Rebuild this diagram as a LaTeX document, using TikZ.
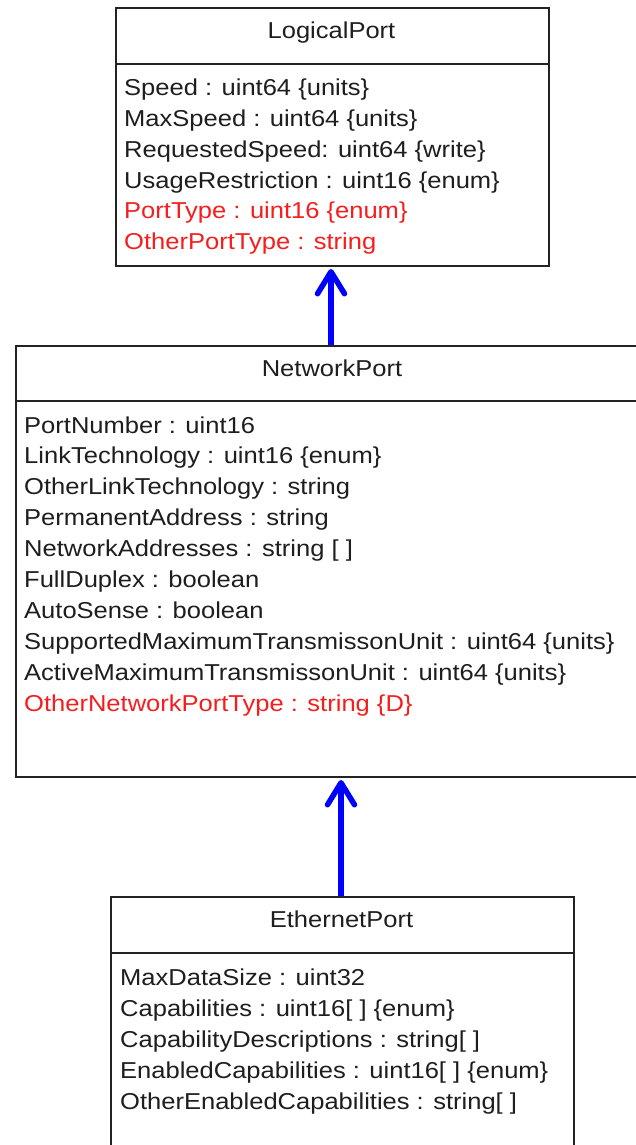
\documentclass[tikz,border=0pt]{standalone}
\usepackage{fontspec}
\newfontfamily\umlfont{Liberation Sans}[FakeStretch=1.11]
\usetikzlibrary{arrows.meta}
\definecolor{umlred}{RGB}{245,30,30}
\definecolor{umltext}{RGB}{30,30,30}
\definecolor{umledge}{RGB}{35,35,35}
\definecolor{inherit}{RGB}{0,0,255}

\begin{document}
\begin{tikzpicture}[x=1pt,y=-1pt,
  classbox/.style={draw=umledge, line width=2pt, fill=white, anchor=north west, inner sep=0pt},
  divider/.style={draw=umledge, line width=2pt},
  attr/.style={anchor=base west, inner sep=0pt, text=umltext, font={\umlfont\fontsize{23}{28}\selectfont}},
  derived/.style={attr, text=umlred},
  classname/.style={anchor=base, inner sep=0pt, text=umltext, font={\umlfont\fontsize{23}{28}\selectfont}},
  gen/.style={draw=inherit, line width=5.5pt, -{Straight Barb[length=22pt,width=27pt,round]}}]

\useasboundingbox (0,0) rectangle (636,1145);
\clip (0,0) rectangle (636,1145);

% ---- LogicalPort ----
\node[classbox, minimum width=433pt, minimum height=258pt] (lp) at (115,7) {};
\draw[divider] ([yshift=-57pt]lp.north west) -- ([yshift=-57pt]lp.north east);
\node[classname] (lpname) at (331.5,38.5) {LogicalPort};
\node[attr]    (lp1) at (124,96)    {Speed : uint64 \{units\}};
\node[attr]    (lp2) at (124,126.7) {MaxSpeed : uint64 \{units\}};
\node[attr]    (lp3) at (124,157.4) {RequestedSpeed: uint64 \{write\}};
\node[attr]    (lp4) at (124,188.1) {UsageRestriction : uint16 \{enum\}};
\node[derived] (lp5) at (124,218.8) {PortType : uint16 \{enum\}};
\node[derived] (lp6) at (124,249.5) {OtherPortType : string};

% ---- NetworkPort ----
\node[classbox, minimum width=634pt, minimum height=431pt] (np) at (15,345) {};
\draw[divider] ([yshift=-56pt]np.north west) -- ([yshift=-56pt]np.north east);
\node[classname] (npname) at (332,376.5) {NetworkPort};
\node[attr]    (np1)  at (24,433)   {PortNumber : uint16};
\node[attr]    (np2)  at (24,463.9) {LinkTechnology : uint16 \{enum\}};
\node[attr]    (np3)  at (24,494.8) {OtherLinkTechnology : string};
\node[attr]    (np4)  at (24,525.7) {PermanentAddress : string};
\node[attr]    (np5)  at (24,556.6) {NetworkAddresses : string [ ]};
\node[attr]    (np6)  at (24,587.5) {FullDuplex : boolean};
\node[attr]    (np7)  at (24,618.4) {AutoSense : boolean};
\node[attr]    (np8)  at (24,649.3) {SupportedMaximumTransmissonUnit : uint64 \{units\}};
\node[attr]    (np9)  at (24,680.2) {ActiveMaximumTransmissonUnit : uint64 \{units\}};
\node[derived] (np10) at (24,711.1) {OtherNetworkPortType : string \{D\}};

% ---- EthernetPort ----
\node[classbox, minimum width=463pt, minimum height=300pt] (ep) at (110,896) {};
\draw[divider] ([yshift=-57pt]ep.north west) -- ([yshift=-57pt]ep.north east);
\node[classname] (epname) at (341.5,927.5) {EthernetPort};
\node[attr] (ep1) at (120,985)  {MaxDataSize : uint32};
\node[attr] (ep2) at (120,1016) {Capabilities : uint16[ ] \{enum\}};
\node[attr] (ep3) at (120,1047) {CapabilityDescriptions : string[ ]};
\node[attr] (ep4) at (120,1078) {EnabledCapabilities : uint16[ ] \{enum\}};
\node[attr] (ep5) at (120,1109) {OtherEnabledCapabilities : string[ ]};

% ---- generalisation arrows ----
\coordinate (g1) at (331,0);
\coordinate (g2) at (341,0);
\draw[gen] (np.north -| g1) -- ([yshift=-2pt]lp.south -| g1);
\draw[gen] (ep.north -| g2) -- ([yshift=-2pt]np.south -| g2);
\end{tikzpicture}
\end{document}
